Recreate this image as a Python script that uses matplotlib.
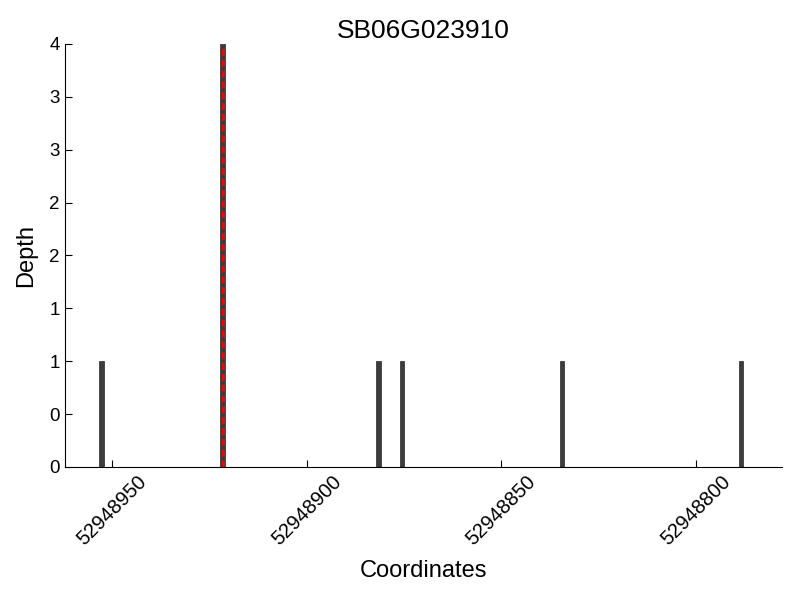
import matplotlib
matplotlib.use('Agg')
import matplotlib.pyplot as plt
from matplotlib.ticker import FormatStrFormatter, MultipleLocator

plt.rcParams['font.family'] = ['Liberation Sans', 'DejaVu Sans']

title = 'SB06G023910'
positions = [52948952, 52948921, 52948881, 52948875, 52948834, 52948788]
depths = [1, 4, 1, 1, 1, 1]
marked = 52948921
x_ticks = [52948950, 52948900, 52948850, 52948800]

fig = plt.figure(figsize=(8, 6), dpi=100)
ax = fig.add_axes([0.081, 0.2217, 0.8967, 0.705])

ax.bar(positions, depths, width=1.1, align='edge', color='#3c3c3c', edgecolor='#3c3c3c', linewidth=0.6)
ax.plot([marked + 0.55, marked + 0.55], [0, max(depths)], color='red',
        linestyle=(0, (2.5, 1.4)), linewidth=2)

ax.set_xlim(max(positions) + 10, min(positions) - 10)
ax.set_ylim(0, max(depths))
ax.set_xticks(x_ticks)
ax.set_xticklabels([str(t) for t in x_ticks], rotation=45, fontsize=14.5)
ax.yaxis.set_major_locator(MultipleLocator(0.5))
ax.yaxis.set_major_formatter(FormatStrFormatter('%d'))
ax.tick_params(axis='y', labelsize=13.5)
ax.tick_params(direction='in', length=5, width=0.8, top=False, right=False)

ax.spines['top'].set_visible(False)
ax.spines['right'].set_visible(False)

ax.set_xlabel('Coordinates', fontsize=17, labelpad=8)
ax.set_ylabel('Depth', fontsize=17, labelpad=9)
ax.set_title(title, fontsize=19, pad=4)

plt.savefig('out.png')
